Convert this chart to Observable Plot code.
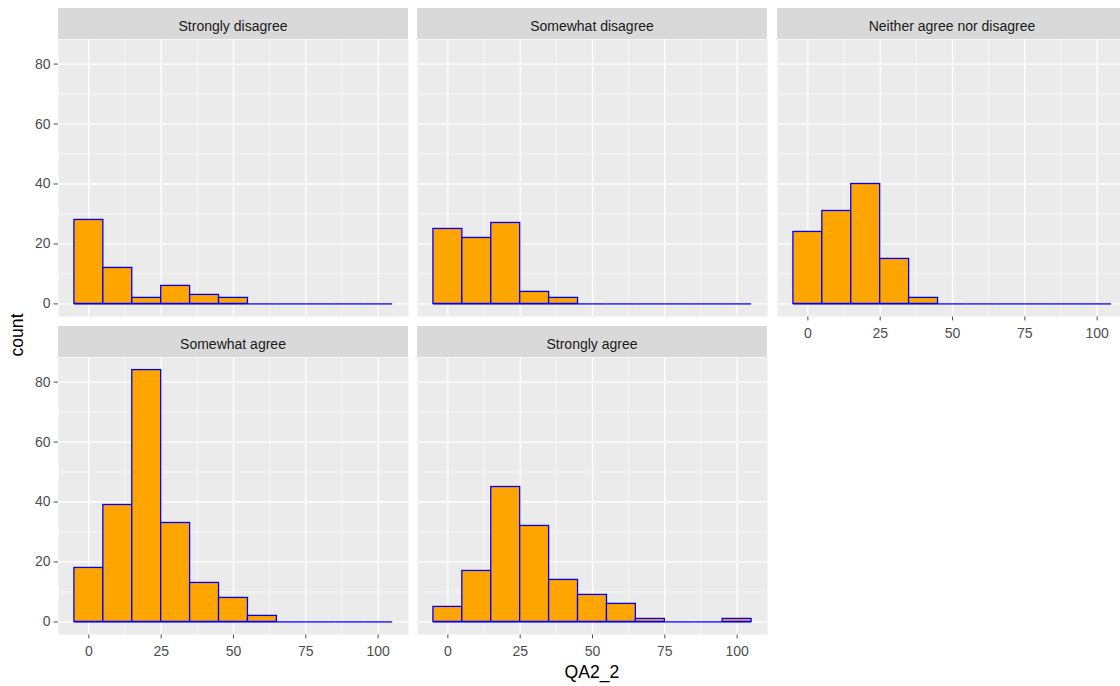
<!DOCTYPE html>
<html><head><meta charset="utf-8">
<script src="https://cdn.jsdelivr.net/npm/d3@7"></script>
<script src="https://cdn.jsdelivr.net/npm/@observablehq/plot@0.6"></script>
<style>
html,body{margin:0;padding:0;background:#fff;}
#chart{position:relative;width:1120px;height:686px;overflow:hidden;font-family:"Liberation Sans",Arial,sans-serif;}
.strip{position:absolute;box-sizing:border-box;padding-top:5px;background:#D9D9D9;color:#1A1A1A;font-size:14px;display:flex;align-items:center;justify-content:center;white-space:nowrap;}
.panel{position:absolute;}
.title{position:absolute;color:#000;font-size:17.6px;white-space:nowrap;line-height:1;}
</style></head><body><div id="chart"></div>
<script>
// ---- data ----
const facetLabels = ["Strongly disagree", "Somewhat disagree", "Neither agree nor disagree", "Somewhat agree", "Strongly agree"];
const binCenters = [0, 10, 20, 30, 40, 50, 60, 70, 80, 90, 100];
const binWidth = 10;
const countsStronglyDisagree = [28, 12, 2, 6, 3, 2, 0, 0, 0, 0, 0];
const countsSomewhatDisagree = [25, 22, 27, 4, 2, 0, 0, 0, 0, 0, 0];
const countsNeither = [24, 31, 40, 15, 2, 0, 0, 0, 0, 0, 0];
const countsSomewhatAgree = [18, 39, 84, 33, 13, 8, 2, 0, 0, 0, 0];
const countsStronglyAgree = [5, 17, 45, 32, 14, 9, 6, 1, 0, 0, 1];
const xTicks = [0, 25, 50, 75, 100];
const xMinorTicks = [12.5, 37.5, 62.5, 87.5];
const yTicks = [0, 20, 40, 60, 80];
const yMinorTicks = [10, 30, 50, 70];
const xTitle = "QA2_2";
const yTitle = "count";

// ---- layout ----
const allCounts = [countsStronglyDisagree, countsSomewhatDisagree, countsNeither, countsSomewhatAgree, countsStronglyAgree];
const colX = [58, 417, 777];
const rowY = [38.5, 356.5];
const panelW = 350, panelH = 277, stripH = 30.5;
const ml = 58, mb = 45;
const chart = document.getElementById("chart");

facetLabels.forEach((label, i) => {
  const col = i % 3, row = Math.floor(i / 3);
  const showY = col === 0;
  const showX = i + 3 >= facetLabels.length;
  const bins = binCenters.map((c, k) => ({x1: c - binWidth / 2, x2: c + binWidth / 2, count: allCounts[i][k]}));
  const svg = Plot.plot({
    width: ml + panelW, height: panelH + mb,
    marginLeft: ml, marginRight: 0, marginTop: 0, marginBottom: mb,
    style: {fontFamily: '"Liberation Sans", Arial, sans-serif', fontSize: "14px", color: "#4D4D4D", background: "transparent", overflow: "visible"},
    x: {domain: [-10.5, 110.5], axis: showX ? "bottom" : null, ticks: xTicks, tickSize: 4.4, tickPadding: 7, label: null},
    y: {domain: [-4.2, 88.2], axis: showY ? "left" : null, ticks: yTicks, tickSize: 4.4, tickPadding: 3.5, label: null},
    marks: [
      Plot.frame({fill: "#EBEBEB", stroke: "none"}),
      Plot.ruleX(xMinorTicks, {stroke: "white", strokeWidth: 0.65}),
      Plot.ruleY(yMinorTicks, {stroke: "white", strokeWidth: 0.65}),
      Plot.ruleX(xTicks, {stroke: "white", strokeWidth: 1.3}),
      Plot.ruleY(yTicks, {stroke: "white", strokeWidth: 1.3}),
      Plot.ruleY(bins, {x1: "x1", x2: "x2", y: 0, stroke: "#0000FF", strokeWidth: 1.3}),
      Plot.rect(bins.filter(d => d.count > 0), {x1: "x1", x2: "x2", y1: 0, y2: "count", inset: 0, fill: "#FFA500", stroke: "#0000FF", strokeWidth: 1.3})
    ]
  });
  svg.classList.add("panel");
  svg.style.left = (colX[col] - ml) + "px";
  svg.style.top = rowY[row] + "px";
  chart.appendChild(svg);
  const strip = document.createElement("div");
  strip.className = "strip";
  strip.textContent = label;
  strip.style.left = colX[col] + "px";
  strip.style.top = (rowY[row] - stripH) + "px";
  strip.style.width = panelW + "px";
  strip.style.height = stripH + "px";
  chart.appendChild(strip);
});

const xt = document.createElement("div");
xt.className = "title";
xt.textContent = xTitle;
xt.style.left = "592px"; xt.style.top = "673px";
xt.style.transform = "translate(-50%,-50%)";
chart.appendChild(xt);
const yt = document.createElement("div");
yt.className = "title";
yt.textContent = yTitle;
yt.style.left = "18px"; yt.style.top = "335px";
yt.style.transform = "translate(-50%,-50%) rotate(-90deg)";
chart.appendChild(yt);
</script></body></html>
